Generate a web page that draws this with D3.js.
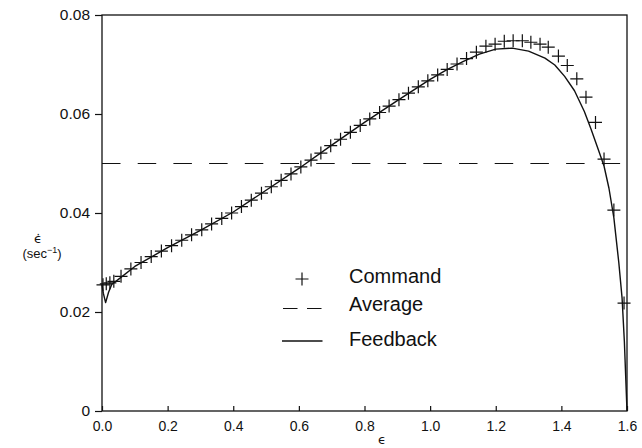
<!doctype html>
<html>
<head>
<meta charset="utf-8">
<script src="https://d3js.org/d3.v7.min.js"></script>
<style>
  body { margin: 0; background: #fff; }
  text { font-family: "Liberation Sans", Arial, sans-serif; fill: #111; }
  text.greek { font-family: "DejaVu Sans", sans-serif; }
</style>
</head>
<body>
<div id="chart"></div>
<script>
// command strain rate (plus markers)
var commandX = [0.003, 0.013, 0.024, 0.036, 0.058, 0.088, 0.119, 0.150, 0.181, 0.212,
  0.243, 0.273, 0.304, 0.334, 0.365, 0.395, 0.425, 0.455, 0.486, 0.516,
  0.546, 0.576, 0.606, 0.637, 0.667, 0.697, 0.727, 0.757, 0.787, 0.816,
  0.846, 0.875, 0.905, 0.934, 0.964, 0.993, 1.023, 1.052, 1.082, 1.111,
  1.141, 1.170, 1.198, 1.226, 1.253, 1.281, 1.307, 1.335, 1.360, 1.391,
  1.418, 1.447, 1.475, 1.504, 1.530, 1.560, 1.591];
var commandY = [0.0255, 0.0257, 0.0259, 0.0262, 0.0272, 0.0287, 0.0300, 0.0312, 0.0323, 0.0334,
  0.0345, 0.0356, 0.0366, 0.0378, 0.0389, 0.0400, 0.0413, 0.0426, 0.0440, 0.0453,
  0.0466, 0.0479, 0.0493, 0.0507, 0.0521, 0.0536, 0.0549, 0.0563, 0.0577, 0.0590,
  0.0603, 0.0616, 0.0629, 0.0642, 0.0655, 0.0667, 0.0679, 0.0690, 0.0701, 0.0712,
  0.0725, 0.0737, 0.0741, 0.0747, 0.0748, 0.0748, 0.0745, 0.0741, 0.0735, 0.0717,
  0.0698, 0.0671, 0.0634, 0.0583, 0.0509, 0.0406, 0.0218];

// feedback strain rate (solid line)
var feedbackX = [0.000, 0.004, 0.011, 0.020, 0.030, 0.05, 0.1, 0.2, 0.3, 0.4,
  0.5, 0.6, 0.7, 0.8, 0.9, 1.0, 1.05, 1.1, 1.15, 1.2,
  1.25, 1.3, 1.35, 1.38, 1.41, 1.44, 1.47, 1.49, 1.51, 1.53,
  1.545, 1.56, 1.575, 1.585, 1.592, 1.596, 1.600];
var feedbackY = [0.0255, 0.0238, 0.0219, 0.0240, 0.0256, 0.0266, 0.0292, 0.0330, 0.0365, 0.0402,
  0.0446, 0.0490, 0.0537, 0.0583, 0.0627, 0.0670, 0.0689, 0.0706, 0.0721, 0.0731,
  0.0733, 0.0727, 0.0713, 0.0699, 0.0676, 0.0647, 0.0605, 0.0570, 0.0533, 0.0495,
  0.0450, 0.0390, 0.0300, 0.0228, 0.0140, 0.0070, 0.0000];

// average strain rate (dashed line)
var averageX = [0, 1.579];
var averageY = [0.05, 0.05];

var xTicks = [0, 0.2, 0.4, 0.6, 0.8, 1.0, 1.2, 1.4, 1.6];
var yTicks = [0, 0.02, 0.04, 0.06, 0.08];
var legendLabels = ["Command", "Average", "Feedback"];

var width = 642, height = 448;
var margin = {top: 15, right: 15, bottom: 37, left: 102};

var svg = d3.select("#chart").append("svg")
    .attr("width", width)
    .attr("height", height);

var x = d3.scaleLinear().domain([0, 1.6]).range([margin.left, width - margin.right]);
var y = d3.scaleLinear().domain([0, 0.08]).range([height - margin.bottom, margin.top]);

// frame
svg.append("rect")
    .attr("x", x(0)).attr("y", y(0.08))
    .attr("width", x(1.6) - x(0)).attr("height", y(0) - y(0.08))
    .attr("fill", "none").attr("stroke", "#111").attr("stroke-width", 1.3);

// x axis, ticks pointing inward
var xAxis = svg.append("g")
    .attr("transform", "translate(0," + y(0) + ")")
    .call(d3.axisBottom(x).tickValues(xTicks).tickSizeInner(-5).tickSizeOuter(0)
        .tickPadding(10).tickFormat(d3.format(".1f")));
xAxis.select(".domain").remove();
xAxis.selectAll("line").attr("stroke", "#111").attr("stroke-width", 1.2);
xAxis.selectAll("text").style("font-size", "14px").attr("fill", "#111");

// y axis, ticks pointing outward
var yAxis = svg.append("g")
    .attr("transform", "translate(" + x(0) + ",0)")
    .call(d3.axisLeft(y).tickValues(yTicks).tickSize(7).tickPadding(5)
        .tickFormat(function(d) { return d === 0 ? "0" : d3.format(".2f")(d); }));
yAxis.select(".domain").remove();
yAxis.selectAll("line").attr("stroke", "#111").attr("stroke-width", 1.2);
yAxis.selectAll("text").style("font-size", "15.5px").attr("fill", "#111");

// axis titles
svg.append("text")
    .attr("class", "greek")
    .attr("x", 382).attr("y", 444)
    .attr("text-anchor", "middle")
    .style("font-size", "13px")
    .text("\u03f5");

svg.append("text")
    .attr("class", "greek")
    .attr("x", 38).attr("y", 243)
    .attr("text-anchor", "middle")
    .style("font-size", "13px")
    .text("\u03f5\u0307");

var unit = svg.append("text")
    .attr("x", 42).attr("y", 258)
    .attr("text-anchor", "middle")
    .style("font-size", "13px");
unit.append("tspan").text("(sec");
unit.append("tspan").attr("dy", -5).style("font-size", "9px").text("\u22121");
unit.append("tspan").attr("dy", 5).text(")");

// average dashed line
var avgData = averageX.map(function(d, i) { return [d, averageY[i]]; });
svg.append("path")
    .datum(avgData)
    .attr("d", d3.line().x(function(d) { return x(d[0]); }).y(function(d) { return y(d[1]); }))
    .attr("fill", "none")
    .attr("stroke", "#111")
    .attr("stroke-width", 1.2)
    .attr("stroke-dasharray", "18.5,17.2");

// feedback line
var fbData = feedbackX.map(function(d, i) { return [d, feedbackY[i]]; });
svg.append("path")
    .datum(fbData)
    .attr("d", d3.line().x(function(d) { return x(d[0]); }).y(function(d) { return y(d[1]); }))
    .attr("fill", "none")
    .attr("stroke", "#111")
    .attr("stroke-width", 1.4)
    .attr("stroke-linejoin", "round");

// command plus markers
var s = 6.5;
var cmdData = commandX.map(function(d, i) { return [d, commandY[i]]; });
svg.append("g").selectAll("path")
    .data(cmdData)
    .enter().append("path")
    .attr("d", function(d) {
        var cx = x(d[0]), cy = y(d[1]);
        return "M" + (cx - s) + "," + cy + "H" + (cx + s) + "M" + cx + "," + (cy - s) + "V" + (cy + s);
    })
    .attr("fill", "none")
    .attr("stroke", "#111")
    .attr("stroke-width", 1.2);

// legend
var legend = svg.append("g");
legend.append("path")
    .attr("d", "M" + (302 - s) + ",279H" + (302 + s) + "M302," + (279 - s) + "V" + (279 + s))
    .attr("stroke", "#111").attr("stroke-width", 1.2);
legend.append("line")
    .attr("x1", 283).attr("x2", 322.5).attr("y1", 308.5).attr("y2", 308.5)
    .attr("stroke", "#111").attr("stroke-width", 1.2)
    .attr("stroke-dasharray", "14.5,9.5");
legend.append("line")
    .attr("x1", 282).attr("x2", 322.5).attr("y1", 341).attr("y2", 341)
    .attr("stroke", "#111").attr("stroke-width", 1.3);

var legendY = [283, 311, 345.5];
legend.selectAll("text.lab")
    .data(legendLabels)
    .enter().append("text")
    .attr("class", "lab")
    .attr("x", 349)
    .attr("y", function(d, i) { return legendY[i]; })
    .style("font-size", "20px")
    .text(function(d) { return d; });
</script>
</body>
</html>
